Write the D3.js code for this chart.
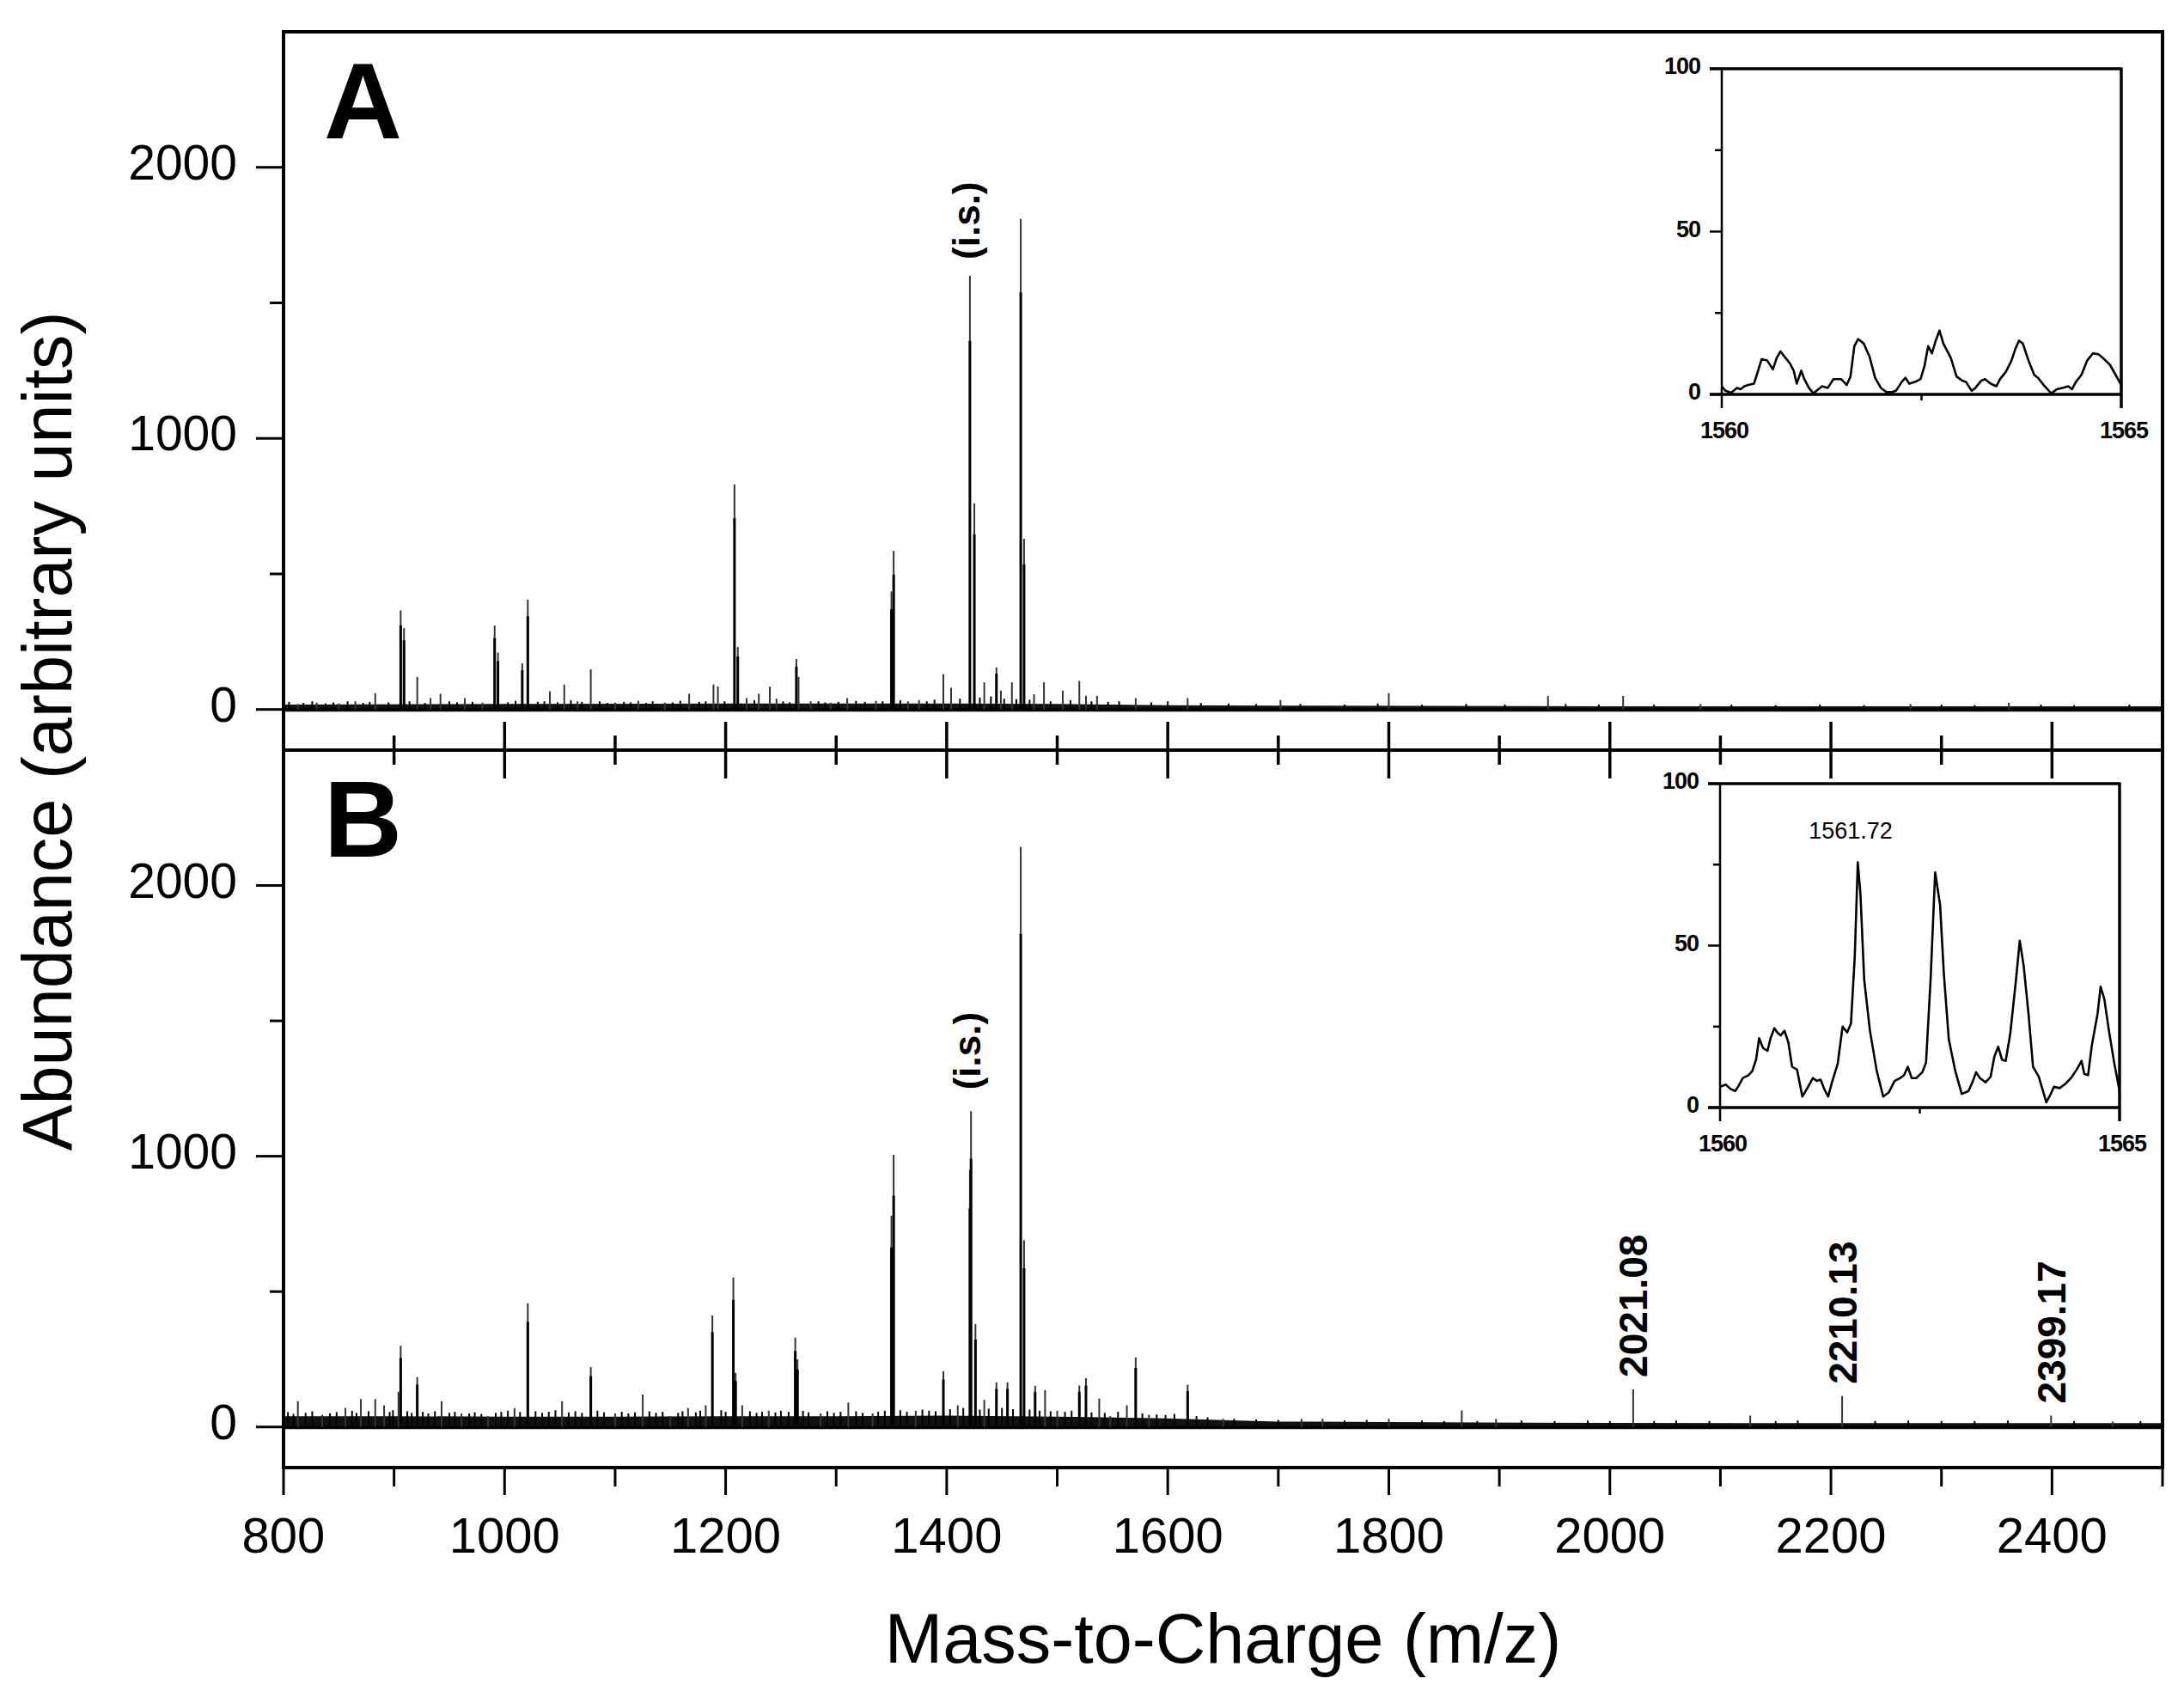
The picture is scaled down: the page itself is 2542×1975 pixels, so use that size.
<!DOCTYPE html>
<html><head><meta charset="utf-8">
<script src="https://cdn.jsdelivr.net/npm/d3@7"></script>
<style>
body{margin:0;background:#fff;}
svg{display:block;font-family:"Liberation Sans",Arial,Helvetica,sans-serif;}
</style></head><body>
<svg id="c" width="2542" height="1975"></svg>
<script>
// ---------------- DATA ----------------
const panelLabels = ["A", "B"];
const xTicks = [800,900,1000,1100,1200,1300,1400,1500,1600,1700,1800,1900,2000,2100,2200,2300,2400,2500];
const xTickLabels = [800,1000,1200,1400,1600,1800,2000,2200,2400];
const yTicksMajor = [0,1000,2000];
const yTicksMinor = [500,1500];
const xTitle = "Mass-to-Charge (m/z)";
const yTitle = "Abundance (arbitrary units)";

// Panel A peaks [m/z, abundance]
const peaksA = [[813,20],[830,25],[850,22],[865,30],[883,60],[906,365],[909,300],[921,120],[933,42],[942,58],[964,42],[980,25],
[991,310],[994,210],[1016,170],[1021,405],[1041,67],[1054,92],[1066,30],[1078,148],[1100,25],[1121,32],[1145,25],[1167,58],
[1189,92],[1193,85],[1208,830],[1211,230],[1219,42],[1230,58],[1240,84],[1246,40],[1264,186],[1266,120],[1277,30],[1295,25],
[1310,42],[1336,32],[1350,435],[1352,585],[1365,30],[1375,34],[1397,130],[1404,80],[1421,1600],[1425,760],[1434,100],[1445,155],
[1449,70],[1459,100],[1467,1810],[1470,630],[1479,56],[1488,100],[1505,70],[1520,105],[1526,50],[1536,50],[1571,42],[1618,42],
[1702,35],[1800,60],[1944,50],[2012,50],[2082,20],[2272,20],[2361,25]];

// Panel B peaks [m/z, abundance]
const peaksB = [[813,95],[835,45],[856,70],[870,103],[883,103],[891,80],[904,130],[906,300],[921,184],[943,95],[961,50],[985,40],
[1009,70],[1021,457],[1052,95],[1078,221],[1100,50],[1125,120],[1150,40],[1166,70],[1182,80],[1188,412],[1207,552],[1209,200],
[1215,80],[1239,60],[1263,330],[1265,250],[1286,50],[1311,90],[1333,50],[1350,780],[1352,1005],[1372,60],[1397,206],[1410,80],
[1421,950],[1422,1166],[1426,380],[1434,100],[1445,165],[1455,165],[1467,2143],[1470,690],[1480,152],[1489,136],[1500,60],
[1520,153],[1526,180],[1538,105],[1548,40],[1563,80],[1571,257],[1583,45],[1618,156],[1650,30],[1721,30],[1740,30],[1800,30],
[1866,61],[1897,30],[2021.08,139],[2127,42],[2210.13,114],[2399.17,42],[2455,20]];

// Small baseline spikes [m/z, abundance]
const spikesA = [[805,28],[818,24],[826,30],[838,22],[845,26],[858,30],[872,24],[878,28],[895,26],[914,30],[928,24],[950,30],
[957,26],[971,28],[1003,26],[1010,32],[1030,28],[1036,30],[1048,26],[1060,34],[1070,28],[1086,30],[1093,24],[1108,28],[1114,26],
[1128,24],[1134,30],[1152,26],[1159,32],[1176,28],[1182,30],[1199,30],[1226,34],[1252,30],[1258,26],[1284,30],[1290,26],[1302,28],
[1318,32],[1326,28],[1342,30],[1358,34],[1382,30],[1389,36],[1412,40],[1430,44],[1440,48],[1452,40],[1463,38],[1475,36],[1494,30],
[1512,34],[1531,30],[1546,28],[1556,30],[1585,26],[1600,30],[1630,24],[1655,22],[1680,20],[1720,20],[1760,18],[1790,22],[1830,18],
[1870,20],[1905,18],[1960,20],[1990,18],[2040,18],[2110,18],[2150,16],[2190,18],[2230,16],[2300,18],[2330,16],[2390,18],[2420,16],[2470,18]];

const spikesB = [[804,55],[809,48],[820,52],[826,58],[842,50],[848,55],[862,60],[866,52],[877,58],[896,55],[899,62],[912,58],
[916,52],[926,56],[931,50],[937,58],[950,52],[955,56],[968,50],[973,54],[979,48],[992,52],[997,56],[1003,60],[1014,55],[1028,58],
[1034,52],[1040,56],[1046,62],[1058,54],[1064,58],[1070,52],[1084,60],[1090,54],[1106,56],[1112,50],[1118,54],[1131,58],[1137,52],
[1143,56],[1157,52],[1161,58],[1173,54],[1177,60],[1196,62],[1200,56],[1222,58],[1228,52],[1233,56],[1245,54],[1250,60],[1257,56],
[1270,60],[1275,54],[1292,58],[1298,52],[1304,56],[1318,58],[1324,52],[1338,56],[1344,60],[1358,62],[1364,56],[1378,64],[1384,60],
[1390,58],[1403,66],[1415,70],[1430,64],[1438,68],[1450,70],[1460,66],[1475,64],[1484,60],[1494,58],[1507,56],[1513,60],[1531,54],
[1543,52],[1555,56],[1577,50],[1590,46],[1598,44],[1606,48],[1626,40],[1636,36],[1660,30],[1680,28],[1700,26],[1760,24],[1780,26],
[1830,24],[1850,22],[1880,22],[1920,24],[1950,22],[1980,24],[2000,22],[2040,22],[2060,24],[2090,22],[2150,22],[2170,24],[2240,22],
[2270,24],[2300,22],[2330,22],[2360,24],[2420,22],[2480,22]];

// Baseline noise envelope [m/z, upper level]
const noiseA = [[800,18],[1000,20],[1200,22],[1400,22],[1500,20],[1600,16],[1700,14],[2000,12],[2500,12]];
const noiseB = [[800,40],[900,40],[1000,38],[1100,38],[1200,40],[1300,40],[1400,42],[1500,38],[1600,32],[1650,25],[1700,20],[1800,18],[2000,15],[2200,14],[2500,14]];
const noiseFloor = -8;

// Annotations
const isLabel = "(i.s.)";
const isPeakA = [1421,1600];
const isPeakB = [1422,1166];
const peakLabelsB = [[2021.08,139,"2021.08"],[2210.13,114,"2210.13"],[2399.17,42,"2399.17"]];

// Insets (zoom 1560-1565)
const insetXTicks = [1560,1565];
const insetXMinor = [1562.5];
const insetYMajor = [0,50,100];
const insetYMinor = [25,75];
const insetLabelB = [1561.72,"1561.72"];
const insetA = [[1560.000,2.5],[1560.047,1.1],[1560.118,0.5],[1560.190,2.0],[1560.237,1.6],[1560.284,2.5],[1560.332,2.9],[1560.403,3.3],[1560.450,6.9],[1560.498,10.8],[1560.569,10.4],[1560.640,7.7],[1560.687,11.2],[1560.735,13.2],[1560.782,11.7],[1560.853,9.5],[1560.900,7.3],[1560.938,3.3],[1560.995,7.3],[1561.033,4.7],[1561.090,2.0],[1561.147,0.3],[1561.209,1.6],[1561.256,2.5],[1561.327,2.0],[1561.398,4.7],[1561.493,4.7],[1561.564,2.9],[1561.611,5.5],[1561.659,14.8],[1561.706,17.0],[1561.777,15.6],[1561.848,11.7],[1561.919,5.1],[1561.991,2.0],[1562.062,0.7],[1562.133,0.7],[1562.180,1.1],[1562.251,3.8],[1562.299,5.1],[1562.346,3.3],[1562.417,3.8],[1562.488,4.7],[1562.536,8.6],[1562.583,14.8],[1562.630,12.6],[1562.678,16.5],[1562.725,19.6],[1562.773,15.6],[1562.820,13.4],[1562.867,11.2],[1562.938,5.5],[1563.009,4.2],[1563.057,3.8],[1563.128,1.1],[1563.175,2.0],[1563.246,4.2],[1563.294,4.7],[1563.365,3.3],[1563.436,2.5],[1563.483,4.7],[1563.555,6.9],[1563.626,10.4],[1563.673,13.9],[1563.720,16.5],[1563.768,15.6],[1563.839,10.4],[1563.910,6.0],[1563.957,5.1],[1564.028,2.9],[1564.076,1.6],[1564.123,0.3],[1564.194,1.6],[1564.265,2.0],[1564.336,2.5],[1564.384,1.6],[1564.431,3.8],[1564.502,6.0],[1564.573,10.4],[1564.645,12.6],[1564.716,12.3],[1564.787,10.8],[1564.858,9.1],[1564.929,6.0],[1565.000,2.9]];
const insetB = [[1560.000,6.4],[1560.071,7.1],[1560.128,5.8],[1560.190,5.1],[1560.237,6.9],[1560.285,9.1],[1560.356,10.0],[1560.404,11.3],[1560.451,14.8],[1560.489,21.4],[1560.537,18.4],[1560.594,17.5],[1560.632,21.4],[1560.679,24.5],[1560.726,22.9],[1560.760,22.3],[1560.807,23.7],[1560.855,20.1],[1560.902,12.6],[1560.964,11.7],[1561.030,3.4],[1561.092,6.0],[1561.163,9.1],[1561.211,8.2],[1561.258,8.6],[1561.306,5.6],[1561.353,3.4],[1561.401,7.8],[1561.472,13.5],[1561.534,25.0],[1561.591,23.2],[1561.638,25.9],[1561.686,46.6],[1561.724,75.7],[1561.757,66.0],[1561.804,39.5],[1561.876,23.7],[1561.961,11.3],[1562.042,3.4],[1562.113,4.7],[1562.184,8.2],[1562.255,9.1],[1562.303,10.0],[1562.350,12.6],[1562.398,9.1],[1562.455,9.1],[1562.531,10.9],[1562.578,13.9],[1562.635,39.5],[1562.692,72.6],[1562.754,62.5],[1562.801,41.3],[1562.863,21.0],[1562.944,11.3],[1563.025,4.2],[1563.110,5.1],[1563.158,7.8],[1563.205,10.9],[1563.253,9.1],[1563.324,7.8],[1563.386,9.5],[1563.433,15.7],[1563.481,18.8],[1563.528,14.8],[1563.575,14.4],[1563.632,22.8],[1563.704,39.5],[1563.751,51.5],[1563.799,44.0],[1563.860,29.0],[1563.917,12.6],[1563.989,9.5],[1564.036,5.6],[1564.083,1.6],[1564.131,3.8],[1564.179,6.4],[1564.250,6.0],[1564.321,7.3],[1564.392,9.1],[1564.463,11.7],[1564.525,14.4],[1564.558,10.4],[1564.606,10.0],[1564.653,19.2],[1564.725,29.0],[1564.763,37.3],[1564.810,33.4],[1564.867,23.7],[1564.938,13.1],[1565.000,5.1]];

// ---------------- DRAW ----------------
const svg = d3.select("#c");
const FL = 330, FR = 2517, FT = 37, FM = 873, FB = 1708;
const x = d3.scaleLinear().domain([800,2500]).range([FL,FR]);
const panels = [
  {label:panelLabels[0], y:d3.scaleLinear().domain([-150,2500]).range([FM,FT]), top:FT, bottom:FM,
   peaks:peaksA, spikes:spikesA, noise:noiseA, is:isPeakA, isGap:19,
   inset:{data:insetA, l:2004, r:2469, t:80, b:459, label:null}},
  {label:panelLabels[1], y:d3.scaleLinear().domain([-150,2500]).range([FB,FM]), top:FM, bottom:FB,
   peaks:peaksB, spikes:spikesB, noise:noiseB, is:isPeakB, isGap:25,
   inset:{data:insetB, l:2002, r:2467, t:912, b:1289, label:insetLabelB}}
];

const defs = svg.append("defs");

panels.forEach((p,i) => {
  const y = p.y;
  defs.append("clipPath").attr("id","clip"+i).append("rect")
    .attr("x",FL).attr("y",p.top).attr("width",FR-FL).attr("height",p.bottom-p.top);
  const g = svg.append("g").attr("clip-path",`url(#clip${i})`);

  // noise band
  const area = d3.area().x(d=>x(d[0])).y0(()=>y(noiseFloor)).y1(d=>y(d[1])).curve(d3.curveLinear);
  g.append("path").datum(p.noise).attr("d",area).attr("fill","#111");
  g.append("line").attr("x1",FL).attr("x2",FR).attr("y1",y(0)).attr("y2",y(0))
    .attr("stroke","#000").attr("stroke-width",3);

  // spikes
  g.selectAll("line.sp").data(p.spikes).join("line").attr("class","sp")
    .attr("x1",d=>x(d[0])).attr("x2",d=>x(d[0])).attr("y1",y(0)).attr("y2",d=>y(d[1]))
    .attr("stroke","#000").attr("stroke-width",2);

  // peaks: thin grey full height + black core
  const sorted = p.peaks.slice().sort((a,b)=>b[1]-a[1]);
  g.selectAll("line.pk").data(sorted).join("line").attr("class","pk")
    .attr("x1",d=>x(d[0])).attr("x2",d=>x(d[0])).attr("y1",y(0)).attr("y2",d=>y(d[1]))
    .attr("stroke","#333").attr("stroke-width",2);
  g.selectAll("line.pkc").data(sorted.filter(d=>d[1]>150)).join("line").attr("class","pkc")
    .attr("x1",d=>x(d[0])).attr("x2",d=>x(d[0])).attr("y1",y(0)).attr("y2",d=>y(d[1]*0.85))
    .attr("stroke","#000").attr("stroke-width",3);

  // y axis ticks (outward)
  svg.selectAll(null).data(yTicksMajor).join("line")
    .attr("x1",FL-32).attr("x2",FL).attr("y1",d=>y(d)).attr("y2",d=>y(d))
    .attr("stroke","#000").attr("stroke-width",3);
  svg.selectAll(null).data(yTicksMinor).join("line")
    .attr("x1",FL-16).attr("x2",FL).attr("y1",d=>y(d)).attr("y2",d=>y(d))
    .attr("stroke","#000").attr("stroke-width",3);
  svg.selectAll(null).data(yTicksMajor).join("text")
    .attr("x",276).attr("y",d=>y(d)+14).attr("text-anchor","end")
    .attr("font-size",57).attr("fill","#000").text(d=>d);

  // panel letter
  svg.append("text").attr("x",377).attr("y",p.top+124).attr("font-size",126)
    .attr("font-weight","bold").attr("fill","#000").text(p.label);

  // (i.s.) label
  const isx = x(p.is[0]);
  const isy = y(p.is[1]) - p.isGap;
  svg.append("text").attr("transform",`translate(${isx+11},${isy}) rotate(-90)`)
    .attr("font-size",44).attr("font-weight","bold").attr("fill","#000").text(isLabel);

  // inset
  const ins = p.inset;
  const ix = d3.scaleLinear().domain([1560,1565]).range([ins.l,ins.r]);
  const iy = d3.scaleLinear().domain([0,100]).range([ins.b,ins.t]);
  const ig = svg.append("g");
  ig.append("rect").attr("x",ins.l).attr("y",ins.t).attr("width",ins.r-ins.l).attr("height",ins.b-ins.t).attr("fill","#fff");
  defs.append("clipPath").attr("id","iclip"+i).append("rect")
    .attr("x",ins.l).attr("y",ins.t).attr("width",ins.r-ins.l).attr("height",ins.b-ins.t);
  ig.append("path").datum(ins.data).attr("clip-path",`url(#iclip${i})`)
    .attr("d",d3.line().x(d=>ix(d[0])).y(d=>iy(d[1])))
    .attr("fill","none").attr("stroke","#000").attr("stroke-width",2.6).attr("stroke-linejoin","round");
  // inset frame
  ig.append("line").attr("x1",ix(1560)).attr("x2",ix(1560)).attr("y1",iy(100)).attr("y2",iy(0)+16).attr("stroke","#000").attr("stroke-width",2.5);
  ig.append("line").attr("x1",ix(1565)).attr("x2",ix(1565)).attr("y1",iy(100)-1.5).attr("y2",iy(0)+16).attr("stroke","#000").attr("stroke-width",3.5);
  ig.append("line").attr("x1",ix(1560)-14).attr("x2",ix(1565)).attr("y1",iy(100)).attr("y2",iy(100)).attr("stroke","#000").attr("stroke-width",3.5);
  ig.append("line").attr("x1",ix(1560)-14).attr("x2",ix(1565)).attr("y1",iy(0)).attr("y2",iy(0)).attr("stroke","#000").attr("stroke-width",3.5);
  ig.selectAll(null).data(insetYMajor).join("line")
    .attr("x1",ix(1560)-14).attr("x2",ix(1560)).attr("y1",d=>iy(d)).attr("y2",d=>iy(d)).attr("stroke","#000").attr("stroke-width",2.5);
  ig.selectAll(null).data(insetYMinor).join("line")
    .attr("x1",ix(1560)-8).attr("x2",ix(1560)).attr("y1",d=>iy(d)).attr("y2",d=>iy(d)).attr("stroke","#000").attr("stroke-width",2.5);
  ig.selectAll(null).data(insetXMinor).join("line")
    .attr("x1",d=>ix(d)).attr("x2",d=>ix(d)).attr("y1",iy(0)).attr("y2",iy(0)+7).attr("stroke","#000").attr("stroke-width",2.5);
  ig.selectAll(null).data(insetYMajor).join("text")
    .attr("x",ix(1560)-25).attr("y",d=>iy(d)+6).attr("text-anchor","end")
    .attr("font-size",27).attr("font-weight","bold").attr("letter-spacing",-1).attr("fill","#000").text(d=>d);
  ig.selectAll(null).data(insetXTicks).join("text")
    .attr("x",d=>ix(d)+3).attr("y",iy(0)+51).attr("text-anchor","middle")
    .attr("font-size",27).attr("font-weight","bold").attr("letter-spacing",-1).attr("fill","#000").text(d=>d);
  if (ins.label) {
    ig.append("text").attr("x",ix(ins.label[0])-8).attr("y",iy(84)+4).attr("text-anchor","middle")
      .attr("font-size",27).attr("fill","#000").text(ins.label[1]);
  }
});

// peak labels in B
const yB = panels[1].y;
svg.selectAll(null).data(peakLabelsB).join("text")
  .attr("transform",d=>`translate(${x(d[0])+16.5},${yB(d[1])-14}) rotate(-90)`)
  .attr("font-size",46).attr("font-weight","bold").attr("fill","#000").text(d=>d[2]);

// frame
svg.append("rect").attr("x",FL).attr("y",FT).attr("width",FR-FL).attr("height",FB-FT)
  .attr("fill","none").attr("stroke","#000").attr("stroke-width",4);
svg.append("line").attr("x1",FL).attr("x2",FR).attr("y1",FM).attr("y2",FM).attr("stroke","#000").attr("stroke-width",4);

// x ticks at divider (crossing) and bottom (outward)
svg.selectAll(null).data(xTicks).join("line")
  .attr("x1",d=>x(d)).attr("x2",d=>x(d))
  .attr("y1",d=>FM-((d%200===0)?33:17)).attr("y2",d=>FM+((d%200===0)?33:17))
  .attr("stroke","#000").attr("stroke-width",3.5);
svg.selectAll(null).data(xTicks).join("line")
  .attr("x1",d=>x(d)).attr("x2",d=>x(d))
  .attr("y1",FB).attr("y2",d=>FB+((d%200===0)?32:22))
  .attr("stroke","#000").attr("stroke-width",3);
svg.selectAll(null).data(xTickLabels).join("text")
  .attr("x",d=>x(d)).attr("y",1807).attr("text-anchor","middle")
  .attr("font-size",58).attr("fill","#000").text(d=>d);

// axis titles
svg.append("text").attr("x",(FL+FR)/2).attr("y",1935).attr("text-anchor","middle")
  .attr("font-size",81).attr("fill","#000").text(xTitle);
svg.append("text").attr("transform","translate(83,851) rotate(-90)").attr("text-anchor","middle")
  .attr("font-size",81).attr("fill","#000").text(yTitle);
</script>
</body></html>
